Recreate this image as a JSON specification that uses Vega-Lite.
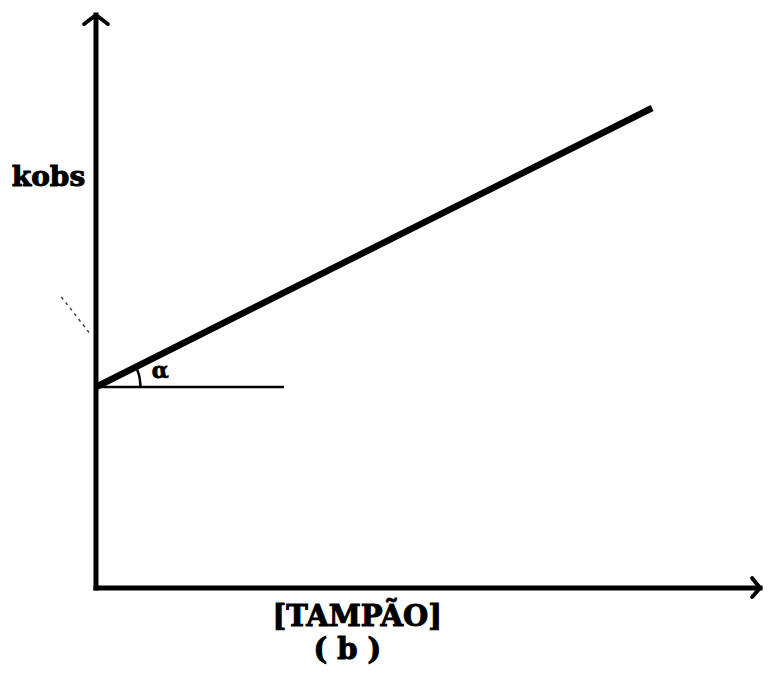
{
  "$schema": "https://vega.github.io/schema/vega-lite/v6.json",
  "width": 770,
  "height": 678,
  "autosize": {"type": "fit", "contains": "padding"},
  "padding": 0,
  "background": "white",
  "config": {"view": {"stroke": null}},
  "datasets": {
    "segs": [
      {"seg": "yaxis", "i": 0, "x": 0, "y": 0},
      {"seg": "yaxis", "i": 1, "x": 0, "y": 57.3},
      {"seg": "xaxis", "i": 0, "x": 0, "y": 0},
      {"seg": "xaxis", "i": 1, "x": 67.1, "y": 0},
      {"seg": "yarrow", "i": 0, "x": -1.2, "y": 56.4},
      {"seg": "yarrow", "i": 1, "x": 0, "y": 57.3},
      {"seg": "yarrow", "i": 2, "x": 1.2, "y": 56.4},
      {"seg": "xarrow", "i": 0, "x": 66.3, "y": 1.0},
      {"seg": "xarrow", "i": 1, "x": 67.1, "y": 0},
      {"seg": "xarrow", "i": 2, "x": 66.3, "y": -0.9},
      {"seg": "fit", "i": 0, "x": 0, "y": 20.1},
      {"seg": "fit", "i": 1, "x": 56.2, "y": 48.0},
      {"seg": "base", "i": 0, "x": 0, "y": 20.1},
      {"seg": "base", "i": 1, "x": 19.0, "y": 20.1},
      {"seg": "arc", "i": 0, "x": 4.5, "y": 20.1},
      {"seg": "arc", "i": 1, "x": 4.43, "y": 20.88},
      {"seg": "arc", "i": 2, "x": 4.23, "y": 21.64},
      {"seg": "arc", "i": 3, "x": 4.04, "y": 22.07},
      {"seg": "stray", "i": 0, "x": -3.5, "y": 29.1},
      {"seg": "stray", "i": 1, "x": -0.5, "y": 25.3}
    ],
    "labels": [
      {"name": "kobs", "x": -4.8, "y": 41.0, "t": "kobs"},
      {"name": "xlab", "x": 26.4, "y": -2.9, "t": "[TAMPÃO]"},
      {"name": "sub", "x": 25.4, "y": -6.2, "t": "(  b )"},
      {"name": "alpha", "x": 6.5, "y": 21.7, "t": "α"}
    ]
  },
  "encoding": {
    "x": {"field": "x", "type": "quantitative", "axis": null, "scale": {"domain": [-9.7, 67.3], "nice": false, "zero": false}},
    "y": {"field": "y", "type": "quantitative", "axis": null, "scale": {"domain": [-9.0, 58.8], "nice": false, "zero": false}}
  },
  "layer": [
    {
      "data": {"name": "segs"},
      "transform": [{"filter": "datum.seg === 'yaxis' || datum.seg === 'xaxis'"}],
      "mark": {"type": "line", "color": "black", "strokeWidth": 5, "strokeCap": "square"},
      "encoding": {"detail": {"field": "seg"}, "order": {"field": "i"}}
    },
    {
      "data": {"name": "segs"},
      "transform": [{"filter": "datum.seg === 'yarrow' || datum.seg === 'xarrow'"}],
      "mark": {"type": "line", "color": "black", "strokeWidth": 4, "strokeCap": "round", "strokeJoin": "miter"},
      "encoding": {"detail": {"field": "seg"}, "order": {"field": "i"}}
    },
    {
      "data": {"name": "segs"},
      "transform": [{"filter": "datum.seg === 'fit'"}],
      "mark": {"type": "line", "color": "black", "strokeWidth": 6.5, "strokeCap": "butt"},
      "encoding": {"order": {"field": "i"}}
    },
    {
      "data": {"name": "segs"},
      "transform": [{"filter": "datum.seg === 'base'"}],
      "mark": {"type": "line", "color": "black", "strokeWidth": 2.5},
      "encoding": {"order": {"field": "i"}}
    },
    {
      "data": {"name": "segs"},
      "transform": [{"filter": "datum.seg === 'arc'"}],
      "mark": {"type": "line", "color": "black", "strokeWidth": 2.5, "interpolate": "monotone"},
      "encoding": {"order": {"field": "i"}}
    },
    {
      "data": {"name": "segs"},
      "transform": [{"filter": "datum.seg === 'stray'"}],
      "mark": {"type": "line", "color": "#444444", "strokeWidth": 1.5, "strokeDash": [3, 4]},
      "encoding": {"order": {"field": "i"}}
    },
    {
      "data": {"name": "labels"},
      "transform": [{"filter": "datum.name === 'kobs'"}],
      "mark": {"type": "text", "font": "DejaVu Serif", "fontWeight": "bold", "fontSize": 28, "color": "black", "stroke": "black", "strokeWidth": 1, "align": "center", "baseline": "middle"},
      "encoding": {"text": {"field": "t"}}
    },
    {
      "data": {"name": "labels"},
      "transform": [{"filter": "datum.name === 'xlab' || datum.name === 'sub'"}],
      "mark": {"type": "text", "font": "DejaVu Serif", "fontWeight": "bold", "fontSize": 29, "color": "black", "stroke": "black", "strokeWidth": 1, "align": "center", "baseline": "middle"},
      "encoding": {"text": {"field": "t"}}
    },
    {
      "data": {"name": "labels"},
      "transform": [{"filter": "datum.name === 'alpha'"}],
      "mark": {"type": "text", "font": "DejaVu Serif", "fontWeight": "bold", "fontSize": 22, "color": "black", "stroke": "black", "strokeWidth": 0.8, "align": "center", "baseline": "middle"},
      "encoding": {"text": {"field": "t"}}
    }
  ]
}
